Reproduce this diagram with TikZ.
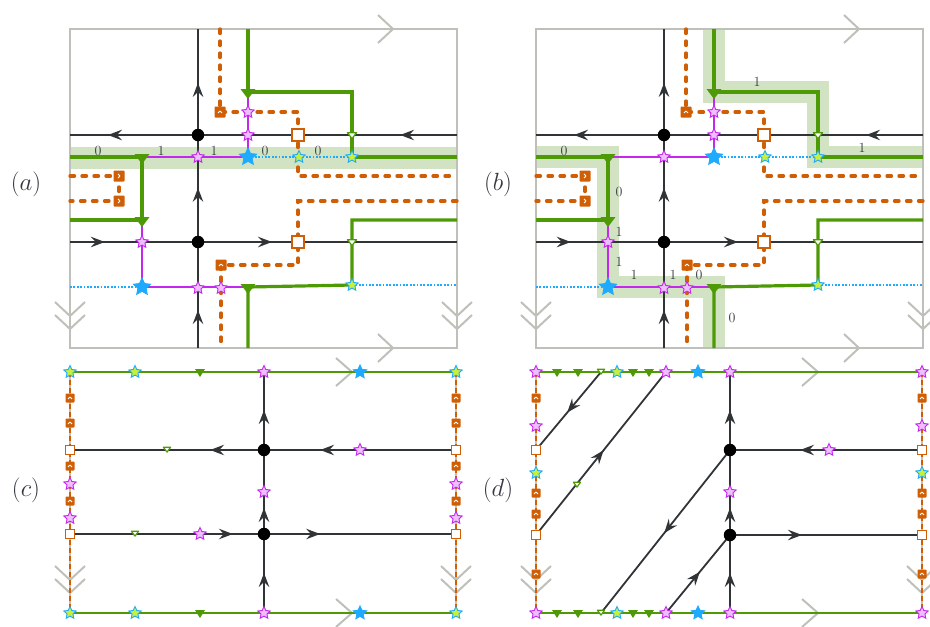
\documentclass[tikz,border=0pt]{standalone}
\usetikzlibrary{shapes.geometric,arrows.meta,decorations.markings}
\definecolor{frameg}{RGB}{192,192,186}
\definecolor{blk}{RGB}{48,52,54}
\definecolor{grn}{RGB}{78,154,6}
\definecolor{bandc}{RGB}{209,227,194}
\definecolor{orc}{RGB}{208,94,4}
\definecolor{magc}{RGB}{196,40,236}
\definecolor{pinkf}{RGB}{238,190,255}
\definecolor{cyc}{RGB}{30,170,255}
\definecolor{yelf}{RGB}{198,240,60}
\definecolor{txt}{RGB}{52,56,64}
\pgfdeclarelayer{bandlayer}
\pgfdeclarelayer{linelayer}
\pgfsetlayers{bandlayer,linelayer,main}
\tikzset{
  blktip/.tip={Stealth[length=14pt,width=10.5pt,inset=5pt]},
  frm/.style={draw=frameg,line width=1.5pt},
  chev/.style={draw=frameg,line width=2pt},
  blkl/.style={draw=blk,line width=1.8pt},
  grl/.style={draw=grn,line width=3.2pt},
  grthin/.style={draw=grn,line width=2.2pt},
  orl/.style={draw=orc,line width=3.3pt,line cap=round,dash pattern=on 4.5pt off 7.5pt},
  orthin/.style={draw=orc,line width=2.8pt,dash pattern=on 5pt off 3pt},
  magl/.style={draw=magc,line width=1.4pt},
  cyl/.style={draw=cyc,line width=1.2pt,dash pattern=on 1.8pt off 1.6pt},
  hiband/.style={draw=bandc,line width=22pt},
  arw2/.style 2 args={postaction={decorate,decoration={markings,mark=at position #1 with {\arrow{blktip}},mark=at position #2 with {\arrow{blktip}}}}},
  arw3/.style n args={3}{postaction={decorate,decoration={markings,mark=at position #1 with {\arrow{blktip}},mark=at position #2 with {\arrow{blktip}},mark=at position #3 with {\arrow{blktip}}}}},
  arw1/.style={postaction={decorate,decoration={markings,mark=at position #1 with {\arrow{blktip}}}}},
  pstar/.style={star,star points=5,star point ratio=2.1,inner sep=0pt,minimum size=13pt,fill=pinkf,draw=magc,line width=0.9pt},
  ystar/.style={pstar,fill=yelf,draw=cyc},
  bstar/.style={pstar,fill=cyc,draw=cyc,minimum size=#1},
  bstar/.default=18pt,
  ftri/.style 2 args={rectangle,inner sep=0pt,minimum width=#1,minimum height=#2,
    path picture={\fill[grn] (path picture bounding box.north west) -- (path picture bounding box.north east) -- (path picture bounding box.south) -- cycle;}},
  otri/.style 2 args={rectangle,inner sep=0pt,minimum width=#1,minimum height=#2,
    path picture={\filldraw[fill=white,draw=grn,line width=1.2pt,line join=round] ([shift={(0.9pt,-0.7pt)}]path picture bounding box.north west) -- ([shift={(-0.9pt,-0.7pt)}]path picture bounding box.north east) -- ([shift={(0pt,1.4pt)}]path picture bounding box.south) -- cycle;}},
  osq/.style={rectangle,inner sep=0pt,minimum size=#1,fill=white,draw=orc,line width=1.3pt},
  osq/.default=12pt,
  icr/.style={rectangle,inner sep=0pt,minimum size=#1,fill=orc,rounded corners=0.8pt,
    path picture={\draw[white,line width=0.9pt] ([shift={(-1pt,2pt)}]path picture bounding box.center) -- ++(2.2pt,-2pt) -- ++(-2.2pt,-2pt);}},
  icu/.style={rectangle,inner sep=0pt,minimum size=#1,fill=orc,rounded corners=0.8pt,
    path picture={\draw[white,line width=0.9pt] ([shift={(-2pt,-1pt)}]path picture bounding box.center) -- ++(2pt,2.2pt) -- ++(2pt,-2.2pt);}},
  bdot/.style={circle,fill=black,inner sep=0pt,minimum size=12.5pt},
  lbl/.style={text=txt,font=\fontsize{14}{16}\selectfont,inner sep=0pt},
  plbl/.style={text=txt,font=\fontsize{24}{28}\selectfont,inner sep=0pt},
}
\newcommand\abpanel[1]{%
\begin{pgfonlayer}{linelayer}
 \draw[frm] (70,29) rectangle (457,348);
 \draw[chev] (378,15) -- (393,29) -- (378,43);
 \draw[chev] (378,334) -- (393,348) -- (378,362);
 \draw[chev] (55,302) -- (70,316) -- (85,302);
 \draw[chev] (55,315) -- (70,329) -- (85,315);
 \draw[chev] (442,302) -- (457,316) -- (472,302);
 \draw[chev] (442,315) -- (457,329) -- (472,315);
 \coordinate (#1h1r) at (457,135); \coordinate (#1h1l) at (70,135);
 \coordinate (#1h2l) at (70,242);  \coordinate (#1h2r) at (457,242);
 \coordinate (#1vb) at (198,348);  \coordinate (#1vt) at (198,29);
 \draw[blkl,arw2={0.147}{0.902}] (#1h1r) -- (#1h1l);
 \draw[blkl,arw2={0.090}{0.522}] (#1h2l) -- (#1h2r);
 \draw[blkl,arw3={0.119}{0.502}{0.831}] (#1vb) -- (#1vt);
 \coordinate (#1qA) at (220,29);  \coordinate (#1qB) at (220,112);
 \coordinate (#1qC) at (298,112); \coordinate (#1qD) at (298,176);
 \coordinate (#1qE) at (457,176);
 \coordinate (#1qF) at (70,176);  \coordinate (#1qG) at (119,176);
 \coordinate (#1qH) at (119,201); \coordinate (#1qI) at (70,201);
 \coordinate (#1qJ) at (457,201); \coordinate (#1qK) at (298,201);
 \coordinate (#1qL) at (298,265); \coordinate (#1qM) at (221,265);
 \coordinate (#1qN) at (221,348);
 \draw[orl] (#1qA) -- (#1qB) -- (#1qC) -- (#1qD) -- (#1qE);
 \draw[orl] (#1qF) -- (#1qG) -- (#1qH) -- (#1qI);
 \draw[orl] (#1qJ) -- (#1qK) -- (#1qL) -- (#1qM) -- (#1qN);
 \coordinate (#1pA) at (248,29);  \coordinate (#1pB) at (248,92);
 \coordinate (#1pC) at (352,92);  \coordinate (#1pD) at (352,157);
 \coordinate (#1pE) at (457,157);
 \coordinate (#1pF) at (70,157);  \coordinate (#1pG) at (142,157);
 \coordinate (#1pH) at (142,220); \coordinate (#1pI) at (70,220);
 \coordinate (#1pJ) at (457,220); \coordinate (#1pK) at (352,220);
 \coordinate (#1pL) at (352,285); \coordinate (#1pM) at (248,287);
 \coordinate (#1pN) at (248,348);
 \coordinate (#1pO) at (248,157); \coordinate (#1pP) at (142,287);
 \coordinate (#1pQ) at (70,287);  \coordinate (#1pR) at (457,285);
 \draw[grl] (#1pA) -- (#1pB) -- (#1pC) -- (#1pD) -- (#1pE);
 \draw[grl] (#1pF) -- (#1pG) -- (#1pH) -- (#1pI);
 \draw[grl] (#1pJ) -- (#1pK) -- (#1pL) -- (#1pM) -- (#1pN);
 \draw[magl] (#1pG) -- (#1pO) -- (#1pB);
 \draw[magl] (#1pH) -- (#1pP) -- (#1pM);
 \draw[cyl] (#1pO) -- (#1pD);
 \draw[cyl] (#1pQ) -- (#1pP);
 \draw[cyl] (#1pL) -- (#1pR);
\end{pgfonlayer}
 \node[bdot] (#1d1) at (198,135) {};
 \node[bdot] (#1d2) at (198,242) {};
 \node[ftri={15pt}{10pt}] (#1t1) at (248,94) {};
 \node[ftri={15pt}{10pt}] (#1t2) at (142,159) {};
 \node[ftri={15pt}{10pt}] (#1t3) at (142,222) {};
 \node[ftri={15pt}{10pt}] (#1t4) at (248,289) {};
 \node[otri={11pt}{8pt}] (#1o1) at (352,136) {};
 \node[otri={11pt}{8pt}] (#1o2) at (352,243) {};
 \node[osq] (#1s1) at (298,135) {};
 \node[osq] (#1s2) at (298,242) {};
 \node[icu=11pt] (#1i1) at (220,112) {};
 \node[icr=11pt] (#1i2) at (119,176) {};
 \node[icr=11pt] (#1i3) at (119,201) {};
 \node[icu=11pt] (#1i4) at (221,265) {};
 \node[pstar] (#1a1) at (198,157) {};
 \node[pstar] (#1a2) at (248,135) {};
 \node[pstar] (#1a3) at (248,112) {};
 \node[pstar] (#1a4) at (142,242) {};
 \node[pstar] (#1a5) at (198,288) {};
 \node[pstar] (#1a6) at (221,288) {};
 \node[ystar] (#1y1) at (299,157) {};
 \node[ystar] (#1y2) at (352,157) {};
 \node[ystar] (#1y3) at (352,285) {};
 \node[bstar] (#1b1) at (248,157) {};
 \node[bstar] (#1b2) at (142,287) {};
}
\begin{document}
\begin{tikzpicture}[x=1pt,y=-1pt]
\useasboundingbox (0,0) rectangle (930,627);
% ---------------- (a)
\begin{pgfonlayer}{bandlayer}
 \coordinate (aB1) at (70,157.5); \coordinate (aB2) at (457,157.5);
 \draw[hiband] (aB1) -- (aB2);
\end{pgfonlayer}
\abpanel{a}
\node[lbl] (al1) at (98,151) {0};
\node[lbl] (al2) at (161,151) {1};
\node[lbl] (al3) at (214,151) {1};
\node[lbl] (al4) at (265,151) {0};
\node[lbl] (al5) at (318,151) {0};
\node[plbl] (alab) at (26,184) {$(a)$};
% ---------------- (b)
\begin{scope}[shift={(466,0)}]
 \begin{pgfonlayer}{bandlayer}
  \draw[hiband] (70,157) -- (142,157) -- (142,287) -- (248,287) -- (248,348);
  \draw[hiband] (248,29) -- (248,92) -- (352,92) -- (352,157) -- (457,157);
 \end{pgfonlayer}
 \abpanel{b}
 \node[lbl] (bl1) at (291,82) {1};
 \node[lbl] (bl2) at (396,148) {1};
 \node[lbl] (bl3) at (98,151) {0};
 \node[lbl] (bl4) at (153,192) {0};
 \node[lbl] (bl5) at (153,232) {1};
 \node[lbl] (bl6) at (153,262) {1};
 \node[lbl] (bl7) at (168,275) {1};
 \node[lbl] (bl8) at (207,275) {1};
 \node[lbl] (bl9) at (233,275) {0};
 \node[lbl] (bl10) at (266,318) {0};
 \node[plbl] (blab) at (32,184) {$(b)$};
\end{scope}
% ---------------- (c)
\begin{pgfonlayer}{linelayer}
 \draw[frm] (70,372) rectangle (456,613);
 \draw[chev] (336,358) -- (352,372) -- (336,386);
 \draw[chev] (336,599) -- (352,613) -- (336,627);
 \draw[chev] (55,566) -- (70,580) -- (85,566);
 \draw[chev] (55,579) -- (70,593) -- (85,579);
 \draw[chev] (441,566) -- (456,580) -- (471,566);
 \draw[chev] (441,579) -- (456,593) -- (471,579);
 \coordinate (cTL) at (70,372); \coordinate (cTR) at (456,372);
 \coordinate (cBL) at (70,613); \coordinate (cBR) at (456,613);
 \draw[grthin] (cTL) -- (cTR);
 \draw[grthin] (cBL) -- (cBR);
 \draw[orthin] (cTL) -- (cBL);
 \draw[orthin] (cTR) -- (cBR);
 \coordinate (cVb) at (264,613); \coordinate (cVt) at (264,372);
 \coordinate (cH1r) at (456,450); \coordinate (cH1l) at (70,450);
 \coordinate (cH2l) at (70,534); \coordinate (cH2r) at (456,534);
 \draw[blkl,arw3={0.166}{0.436}{0.842}] (cVb) -- (cVt);
 \draw[blkl,arw2={0.352}{0.637}] (cH1r) -- (cH1l);
 \draw[blkl,arw2={0.422}{0.648}] (cH2l) -- (cH2r);
\end{pgfonlayer}
\foreach \x [count=\i] in {70,135,456} {
  \node[ystar] (cTy\i) at (\x,372) {};
  \node[ystar] (cBy\i) at (\x,613) {};
}
\node[pstar] (cTp) at (264,372) {};
\node[pstar] (cBp) at (264,613) {};
\node[bstar=14pt] (cTb) at (360,372) {};
\node[bstar=14pt] (cBb) at (360,613) {};
\node[ftri={10pt}{8pt}] (cTt) at (200,373) {};
\node[ftri={10pt}{8pt}] (cBt) at (200,614) {};
\foreach \x/\sd in {70/L,456/R} {
  \foreach \y [count=\i] in {398,423,466,501} \node[icu=9pt] (c\sd-i\i) at (\x,\y) {};
  \foreach \y [count=\i] in {484,518} \node[pstar] (c\sd-p\i) at (\x,\y) {};
  \foreach \y [count=\i] in {450,534} \node[osq=9.5pt] (c\sd-s\i) at (\x,\y) {};
}
\node[bdot] (cd1) at (264,450) {};
\node[bdot] (cd2) at (264,534) {};
\node[otri={9pt}{7pt}] (co1) at (167,450) {};
\node[otri={9pt}{7pt}] (co2) at (135,534) {};
\node[pstar] (cp1) at (360,450) {};
\node[pstar] (cp2) at (200,534) {};
\node[pstar] (cp3) at (264,492) {};
\node[plbl] (clab) at (26,490) {$(c)$};
% ---------------- (d)
\begin{pgfonlayer}{linelayer}
 \draw[frm] (536,372) rectangle (922,613);
 \draw[chev] (802,358) -- (818,372) -- (802,386);
 \draw[chev] (802,599) -- (818,613) -- (802,627);
 \draw[chev] (521,566) -- (536,580) -- (551,566);
 \draw[chev] (521,579) -- (536,593) -- (551,579);
 \draw[chev] (907,566) -- (922,580) -- (937,566);
 \draw[chev] (907,579) -- (922,593) -- (937,579);
 \coordinate (dTL) at (536,372); \coordinate (dTR) at (922,372);
 \coordinate (dBL) at (536,613); \coordinate (dBR) at (922,613);
 \draw[grthin] (dTL) -- (dTR);
 \draw[grthin] (dBL) -- (dBR);
 \draw[orthin] (dTL) -- (dBL);
 \draw[orthin] (dTR) -- (dBR);
 \coordinate (dVb) at (730,613); \coordinate (dVt) at (730,372);
 \coordinate (dH1r) at (922,450); \coordinate (dH1l) at (730,450);
 \coordinate (dH2l) at (730,535); \coordinate (dH2r) at (922,535);
 \coordinate (dD1a) at (601,372); \coordinate (dD1b) at (536,450);
 \coordinate (dD2a) at (536,535); \coordinate (dD2b) at (666,372);
 \coordinate (dD3a) at (730,450); \coordinate (dD3b) at (601,613);
 \coordinate (dD4a) at (666,613); \coordinate (dD4b) at (730,535);
 \draw[blkl,arw3={0.166}{0.436}{0.842}] (dVb) -- (dVt);
 \draw[blkl,arw1={0.635}] (dH1r) -- (dH1l);
 \draw[blkl,arw1={0.375}] (dH2l) -- (dH2r);
 \draw[blkl,arw1={0.52}] (dD1a) -- (dD1b);
 \draw[blkl,arw1={0.52}] (dD2a) -- (dD2b);
 \draw[blkl,arw1={0.51}] (dD3a) -- (dD3b);
 \draw[blkl,arw1={0.53}] (dD4a) -- (dD4b);
\end{pgfonlayer}
\foreach \yy/\tb in {372/T,613/B} {
  \foreach \x [count=\i] in {536,666,730,922} \node[pstar] (d\tb-p\i) at (\x,\yy) {};
  \foreach \x [count=\i] in {557,578,633,649} \node[ftri={10pt}{8pt}] (d\tb-t\i) at (\x,\yy+1) {};
  \node[otri={9pt}{7pt}] (d\tb-o) at (601,\yy) {};
  \node[ystar] (d\tb-y) at (617,\yy) {};
  \node[bstar=14pt] (d\tb-b) at (698,\yy) {};
}
\foreach \x/\sd in {536/L,922/R} {
  \foreach \y [count=\i] in {398,493,514,574} \node[icu=9pt] (d\sd-i\i) at (\x,\y) {};
  \node[pstar] (d\sd-p) at (\x,426) {};
  \node[ystar] (d\sd-y) at (\x,473) {};
  \foreach \y [count=\i] in {450,535} \node[osq=9.5pt] (d\sd-s\i) at (\x,\y) {};
}
\node[bdot] (dd1) at (730,450) {};
\node[bdot] (dd2) at (730,535) {};
\node[pstar] (dp1) at (730,492) {};
\node[pstar] (dp2) at (829,450) {};
\node[otri={9pt}{7pt}] (do1) at (577,485) {};
\node[plbl] (dlab) at (498,490) {$(d)$};
\end{tikzpicture}
\end{document}
